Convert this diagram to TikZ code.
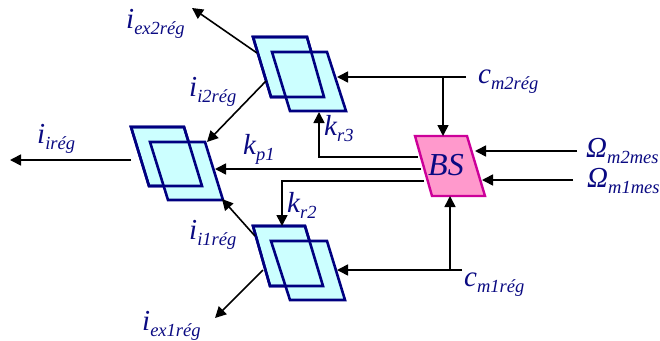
\documentclass[tikz,border=0pt]{standalone}
\usepackage{fontspec}
\setmainfont{Liberation Serif}
\usetikzlibrary{arrows.meta}
\definecolor{navyb}{RGB}{0,0,128}
\definecolor{txtb}{RGB}{10,10,130}
\definecolor{cyanf}{RGB}{204,255,255}
\definecolor{pinkf}{RGB}{255,153,204}
\definecolor{pinkd}{RGB}{204,0,153}
\newcommand{\lab}[2]{{\fontsize{29}{29}\selectfont\itshape #1}\raisebox{-6pt}{\fontsize{18.5}{19}\selectfont\itshape #2}}
\tikzset{
 x=1pt,y=-1pt,
 para/.style={draw=navyb,fill=cyanf,line width=2.6pt,line join=miter},
 bsbox/.style={draw=pinkd,fill=pinkf,line width=2.4pt},
 conn/.style={draw=black,line width=1.6pt},
 arr/.style={conn,-{Triangle[length=11pt,width=11pt]}},
 txt/.style={text=txtb,inner sep=0pt,anchor=base west}
}
\begin{document}
\begin{tikzpicture}
\useasboundingbox (0,0) rectangle (660,340);
% blocks
\draw[para] (253,37)--(307,37)--(324,97)--(271,97)--cycle;
\draw[para] (272,52)--(327,52)--(346,111)--(290,111)--cycle;
\draw[para,fill=none] (253,37)--(307,37)--(324,97)--(271,97)--cycle;
\draw[para] (131,127)--(184,127)--(202,186)--(149,186)--cycle;
\draw[para] (150,142)--(205,142)--(223,200)--(168,200)--cycle;
\draw[para,fill=none] (131,127)--(184,127)--(202,186)--(149,186)--cycle;
\draw[para] (253,226)--(305,226)--(323,286)--(270,286)--cycle;
\draw[para] (271,241)--(327,241)--(345,300)--(290,300)--cycle;
\draw[para,fill=none] (253,226)--(305,226)--(323,286)--(270,286)--cycle;
\draw[bsbox] (415,136)--(467,136)--(485,196)--(432,196)--cycle;
% named end points
\coordinate (ex2s) at (257,53); \coordinate (ex2e) at (192,8);
\coordinate (i2s) at (266,81); \coordinate (i2e) at (207,142);
\coordinate (is) at (131,160); \coordinate (ie) at (10,160);
\coordinate (kp1s) at (421,169); \coordinate (kp1e) at (215,169);
\coordinate (kr3s) at (418,157); \coordinate (kr3c) at (319,157); \coordinate (kr3e) at (319,112);
\coordinate (kr2s) at (424,181); \coordinate (kr2c) at (282,181); \coordinate (kr2e) at (282,226);
\coordinate (i1s) at (255,236); \coordinate (i1e) at (222,199);
\coordinate (ex1s) at (263,270); \coordinate (ex1e) at (215,318);
\coordinate (cm2s) at (466,77); \coordinate (cm2e) at (337,77); \coordinate (cm2b) at (443,77); \coordinate (bst) at (443,136);
\coordinate (cm1s) at (462,270); \coordinate (cm1e) at (337,270); \coordinate (cm1b) at (450,270); \coordinate (bsb) at (450,196);
\coordinate (om2s) at (577,151); \coordinate (om2e) at (475,151);
\coordinate (om1s) at (573,180); \coordinate (om1e) at (482,180);
% connectors
\draw[arr] (ex2s)--(ex2e);
\draw[arr] (i2s)--(i2e);
\draw[arr] (is)--(ie);
\draw[arr] (kp1s)--(kp1e);
\draw[arr] (kr3s)--(kr3c)--(kr3e);
\draw[arr] (kr2s)--(kr2c)--(kr2e);
\draw[arr] (i1s)--(i1e);
\draw[arr] (ex1s)--(ex1e);
\draw[arr] (cm2s)--(cm2e);
\draw[arr] (cm2b)--(bst);
\draw[arr] (cm1s)--(cm1e);
\draw[arr] (cm1b)--(bsb);
\draw[arr] (om2s)--(om2e);
\draw[arr] (om1s)--(om1e);
% labels
\node[txt] (tbs) at (428,175) {\fontsize{32}{32}\selectfont\itshape BS};
\node[txt] (t1) at (126,28) {\lab{i}{ex2rég}};
\node[txt] (t2) at (189,96) {\lab{i}{i2rég}};
\node[txt] (t3) at (37,143) {\lab{i}{irég}};
\node[txt] (t4) at (243,154) {\lab{k}{p1}};
\node[txt] (t5) at (324,135) {\lab{k}{r3}};
\node[txt] (t6) at (287,212) {\lab{k}{r2}};
\node[txt] (t7) at (189,239) {\lab{i}{i1rég}};
\node[txt] (t8) at (142,330) {\lab{i}{ex1rég}};
\node[txt] (t9) at (478,83) {\lab{c}{m2rég}};
\node[txt] (t10) at (464,286) {\lab{c}{m1rég}};
\node[txt] (t11) at (586,157) {\lab{Ω}{m2mes}};
\node[txt] (t12) at (587,187) {\lab{Ω}{m1mes}};
\end{tikzpicture}
\end{document}
